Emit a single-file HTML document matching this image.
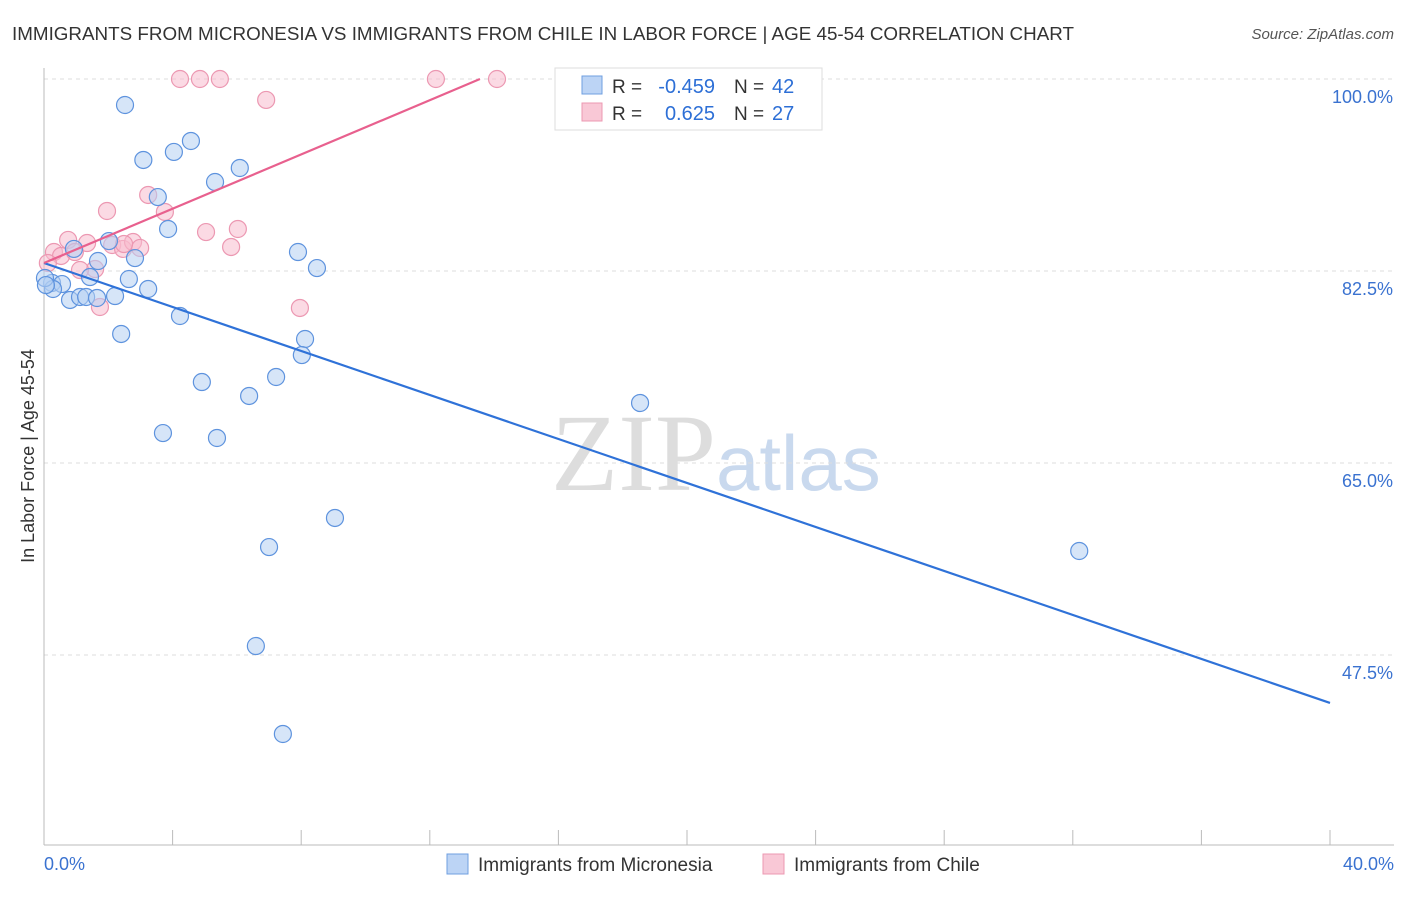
<!DOCTYPE html>
<html><head><meta charset="utf-8"><style>
body{margin:0;background:#fff;font-family:"Liberation Sans",sans-serif}
</style></head><body>
<svg id="c" width="1406" height="892" xmlns="http://www.w3.org/2000/svg" font-family="Liberation Sans, sans-serif">
<text x="12" y="40" font-size="18" fill="#333" textLength="1062" lengthAdjust="spacingAndGlyphs">IMMIGRANTS FROM MICRONESIA VS IMMIGRANTS FROM CHILE IN LABOR FORCE | AGE 45-54 CORRELATION CHART</text>
<text x="1394" y="39" font-size="15" fill="#555" font-style="italic" text-anchor="end">Source: ZipAtlas.com</text>
<text x="716" y="490" font-size="110" fill="#ddd" text-anchor="end" font-family="Liberation Serif, serif">ZIP</text>
<text x="716" y="490" font-size="78" fill="#c9d9ee">atlas</text>
<g id="grid"></g><g id="axes"></g><g id="pts"></g><g id="lines"></g>
<text transform="translate(34,456) rotate(-90)" font-size="18" fill="#333" text-anchor="middle">In Labor Force | Age 45-54</text>
<g>
<rect x="555" y="68" width="267" height="62" fill="#fff" stroke="#ddd"/>
<rect x="582" y="76" width="20" height="18" fill="#bcd4f5" stroke="#6f9fe0"/>
<rect x="582" y="103" width="20" height="18" fill="#f9c8d6" stroke="#ec98b2"/>
<text x="612" y="93" font-size="19" fill="#333">R =</text>
<text x="715" y="93" font-size="20" fill="#2d6fd6" text-anchor="end">-0.459</text>
<text x="734" y="93" font-size="19" fill="#333">N =</text>
<text x="772" y="93" font-size="20" fill="#2d6fd6">42</text>
<text x="612" y="120" font-size="19" fill="#333">R =</text>
<text x="715" y="120" font-size="20" fill="#2d6fd6" text-anchor="end">0.625</text>
<text x="734" y="120" font-size="19" fill="#333">N =</text>
<text x="772" y="120" font-size="20" fill="#2d6fd6">27</text>
</g>
<g>
<rect x="447" y="854" width="21" height="20" fill="#bcd4f5" stroke="#6f9fe0"/>
<text x="478" y="871" font-size="19" fill="#333">Immigrants from Micronesia</text>
<rect x="763" y="854" width="21" height="20" fill="#f9c8d6" stroke="#ec98b2"/>
<text x="794" y="871" font-size="19" fill="#333">Immigrants from Chile</text>
</g>
</svg>
<script>
const NS="http://www.w3.org/2000/svg";
const yTicks=[100,82.5,65,47.5];
const yTickLabels=["100.0%","82.5%","65.0%","47.5%"];
const xTicks=[0,4,8,12,16,20,24,28,32,36,40];
const blueX=[2.52,3.09,4.04,4.57,5.32,6.09,3.54,3.86,2.02,0.93,1.68,2.83,2.64,1.43,0.25,0.56,0.28,0.81,1.12,1.31,1.65,2.21,3.24,4.23,2.40,7.90,8.49,8.12,8.02,7.22,4.91,6.38,3.70,5.38,18.54,9.05,7.00,32.20,6.59,7.43,0.03,0.06];
const blueY=[97.63,92.62,93.35,94.35,90.61,91.89,89.24,86.33,85.23,84.51,83.41,83.68,81.77,81.95,81.41,81.31,80.86,79.86,80.13,80.13,80.04,80.22,80.86,78.40,76.76,84.23,82.77,76.30,74.84,72.84,72.38,71.11,67.73,67.28,70.47,59.99,57.34,56.98,48.32,40.30,81.86,81.22];
const pinkX=[4.23,4.85,5.47,12.19,14.09,6.91,3.24,1.96,3.76,5.04,6.03,5.82,0.75,1.34,0.31,0.53,0.96,2.12,2.46,2.77,2.99,2.49,0.12,1.59,1.12,1.74,7.96];
const pinkY=[100,100,100,100,100,98.09,89.43,87.97,87.88,86.05,86.33,84.69,85.33,85.05,84.23,83.87,84.23,84.87,84.51,85.14,84.60,84.96,83.23,82.68,82.59,79.22,79.13];
const blueLine=[[0,83.23],[40,43.13]];
const pinkLine=[[0,83.23],[13.56,100]];
const sx=v=>44+v/40*1286, sy=v=>79+(100-v)/17.5*192;
function el(t,a,p){const e=document.createElementNS(NS,t);for(const k in a)e.setAttribute(k,a[k]);p.appendChild(e);return e;}
const g=document.getElementById('grid'),ax=document.getElementById('axes'),pts=document.getElementById('pts'),ln=document.getElementById('lines');
yTicks.forEach((v,i)=>{
 const l=el('line',{x1:44,x2:1394,y1:sy(v),y2:sy(v),stroke:'#ddd','stroke-dasharray':'4,4'},g);
 
 
 const t=el('text',{x:1393,y:sy(v)+24,'font-size':18,fill:'#3a72d0','text-anchor':'end'},g);
 t.textContent=yTickLabels[i];
 
 
});
let a=el('line',{x1:44,x2:44,y1:68,y2:845,stroke:'#bbb'},ax);


a=el('line',{x1:44,x2:1394,y1:845,y2:845,stroke:'#bbb'},ax);


xTicks.forEach(v=>{const t=el('line',{x1:sx(v),x2:sx(v),y1:830,y2:845,stroke:'#bbb'},ax);
 
 });
[[0,'0.0%',44,'start'],[40,'40.0%',1394,'end']].forEach(d=>{const t=el('text',{x:d[2],y:870,'font-size':18,fill:'#3a72d0','text-anchor':d[3]},ax);t.textContent=d[1];
 
 });
function series(X,Y,f,s,name){X.forEach((x,i)=>{const c=el('circle',{cx:sx(x),cy:sy(Y[i]),r:8.5,fill:f,'fill-opacity':0.55,stroke:s,'stroke-width':1.2},pts);
 
 });}
series(pinkX,pinkY,'#f7bccd','#ec98b2','chile-point');
series(blueX,blueY,'#b5cff3','#5e93de','micronesia-point');
let L=el('line',{x1:sx(blueLine[0][0]),y1:sy(blueLine[0][1]),x2:sx(blueLine[1][0]),y2:sy(blueLine[1][1]),stroke:'#2f72d8','stroke-width':2.2},ln);


L=el('line',{x1:sx(pinkLine[0][0]),y1:sy(pinkLine[0][1]),x2:sx(pinkLine[1][0]),y2:sy(pinkLine[1][1]),stroke:'#e8608e','stroke-width':2.2},ln);


</script>
</body></html>
